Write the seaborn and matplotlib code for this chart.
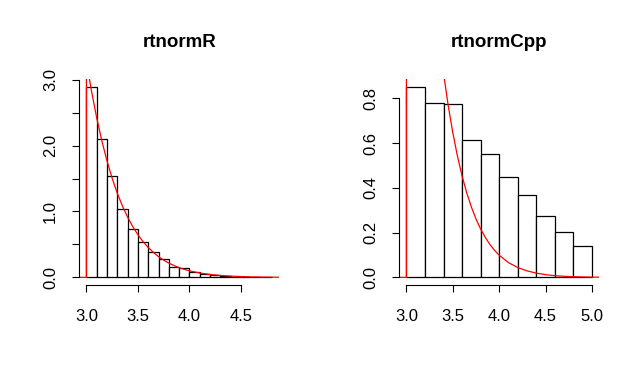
import matplotlib
matplotlib.use("Agg")
import matplotlib.pyplot as plt
import numpy as np
import seaborn as sns

# histogram bins and densities
edges_r = [3.0, 3.1, 3.2, 3.3, 3.4, 3.5, 3.6, 3.7, 3.8, 3.9,
           4.0, 4.1, 4.2, 4.3, 4.4, 4.5, 4.6, 4.7, 4.8]
dens_r = [2.894, 2.10, 1.545, 1.035, 0.727, 0.530, 0.379, 0.273, 0.162,
          0.136, 0.081, 0.050, 0.030, 0.020, 0.010, 0.006, 0.003, 0.002]

edges_cpp = [3.0, 3.2, 3.4, 3.6, 3.8, 4.0, 4.2, 4.4, 4.6, 4.8, 5.0]
dens_cpp = [0.852, 0.778, 0.773, 0.614, 0.549, 0.450, 0.370, 0.272, 0.203, 0.141]

# red density curve (truncated normal at 3)
curve_x = [2.9, 3.0, 3.0, 3.05, 3.1, 3.15, 3.2, 3.25, 3.3, 3.35, 3.4, 3.45,
           3.5, 3.55, 3.6, 3.65, 3.7, 3.75, 3.8, 3.85, 3.9, 3.95, 4.0,
           4.1, 4.2, 4.3, 4.4, 4.5, 4.6, 4.7, 4.8, 4.9, 5.0, 5.1, 5.2]
curve_y = [0.0, 0.0, 3.283, 2.822, 2.420, 2.070, 1.766, 1.503, 1.276, 1.081,
           0.913, 0.769, 0.647, 0.542, 0.453, 0.378, 0.315, 0.261, 0.216,
           0.179, 0.147, 0.121, 0.099, 0.066, 0.044, 0.029, 0.019, 0.012,
           0.0075, 0.0047, 0.0029, 0.0018, 0.0011, 0.0007, 0.0004]

titles = ["rtnormR", "rtnormCpp"]
xticks = [[3.0, 3.5, 4.0, 4.5], [3.0, 3.5, 4.0, 4.5, 5.0]]
yticks = [[0.0, 0.5, 1.0, 1.5, 2.0, 2.5, 3.0], [0.0, 0.2, 0.4, 0.6, 0.8]]
ylabels = [["0.0", "", "1.0", "", "2.0", "", "3.0"], ["0.0", "0.2", "0.4", "0.6", "0.8"]]

sns.set_style("white")
plt.rcParams['font.family'] = ['Liberation Sans', 'DejaVu Sans']
plt.rcParams['text.color'] = 'black'

fig = plt.figure(figsize=(6.39, 3.83), dpi=100)
ax1 = fig.add_axes([0.1236, 0.2559, 0.3135, 0.5378])
ax2 = fig.add_axes([0.6244, 0.2559, 0.3135, 0.5378])

panels = [(ax1, edges_r, dens_r), (ax2, edges_cpp, dens_cpp)]
for i, (ax, edges, dens) in enumerate(panels):
    sns.histplot(x=edges[:-1], weights=dens, bins=edges, ax=ax,
                 color="white", edgecolor="black", linewidth=0.9, alpha=1)
    sns.lineplot(x=curve_x, y=curve_y, ax=ax, color="red", linewidth=0.9,
                 estimator=None, sort=False)

    # R-style limits: 4% extension around the data range
    lo, hi = edges[0], edges[-1]
    ax.set_xlim(lo - 0.04 * (hi - lo), hi + 0.04 * (hi - lo))
    ytop = max(dens)
    ax.set_ylim(-0.04 * ytop, ytop * 1.04)

    ax.set_xticks(xticks[i])
    ax.set_xticklabels(["%.1f" % t for t in xticks[i]])
    ax.set_yticks(yticks[i])
    ax.set_yticklabels(ylabels[i], rotation=90, va="center")
    ax.set_xlabel("")
    ax.set_ylabel("")

    for s in ["top", "right"]:
        ax.spines[s].set_visible(False)
    ax.spines["left"].set_bounds(yticks[i][0], yticks[i][-1])
    ax.spines["bottom"].set_bounds(xticks[i][0], xticks[i][-1])
    for s in ["left", "bottom"]:
        ax.spines[s].set_color("black")
        ax.spines[s].set_linewidth(0.8)

    ax.tick_params(axis="x", direction="out", length=5, width=0.8,
                   pad=12, labelsize=12, bottom=True, colors="black")
    ax.tick_params(axis="y", direction="out", length=5, width=0.8,
                   pad=10, labelsize=12, left=True, colors="black")
    ax.set_title(titles[i], fontsize=13.5, fontweight="bold", pad=23,
                 color="black")

fig.savefig("out.png", dpi=100)
